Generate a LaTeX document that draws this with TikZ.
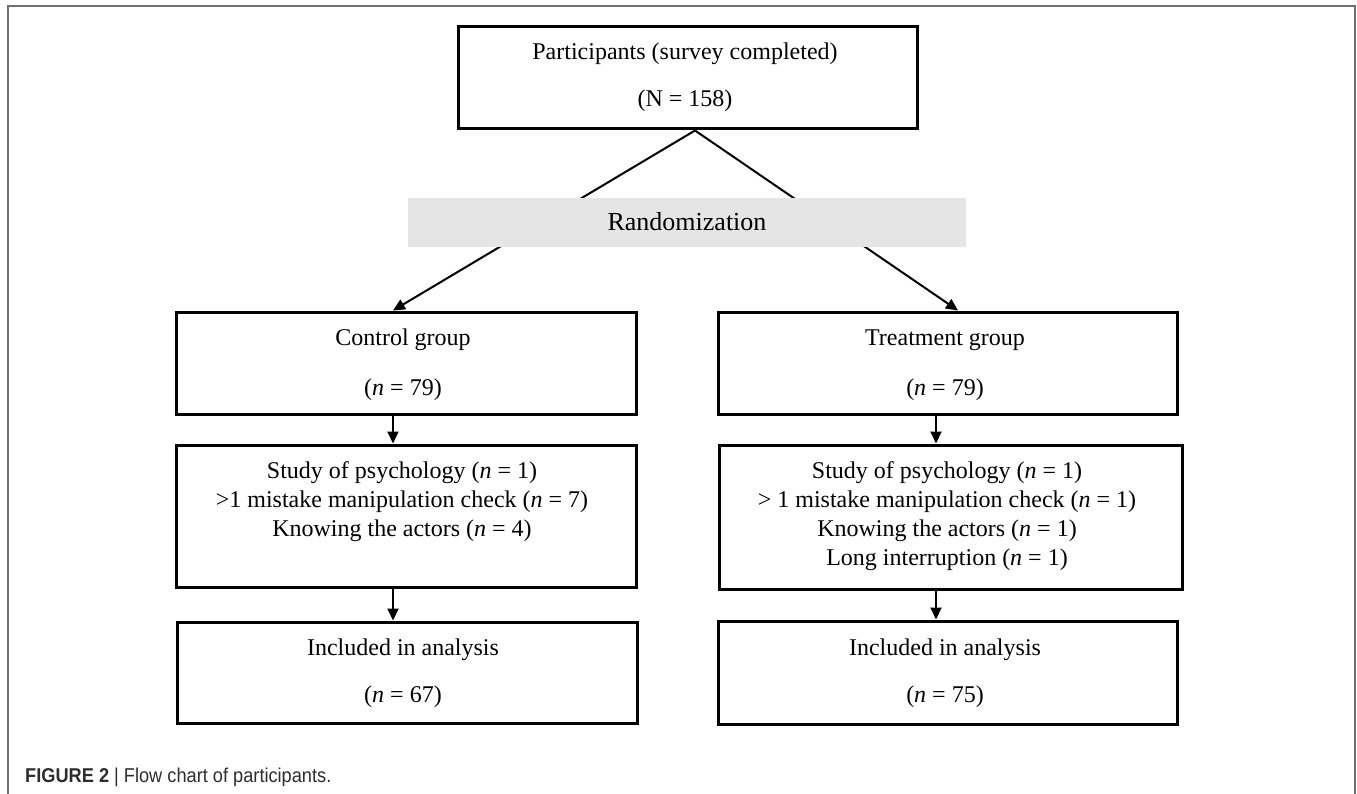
\documentclass[tikz,border=0pt]{standalone}
\usepackage{fontspec}
\setmainfont{Liberation Serif}
\newfontfamily\capfont[FakeStretch=0.91]{Liberation Sans}
\usetikzlibrary{arrows.meta}
\definecolor{randgray}{RGB}{229,229,229}
\definecolor{framegray}{RGB}{112,112,112}
\definecolor{capgray}{RGB}{45,45,45}
\begin{document}
\begin{tikzpicture}[x=1pt,y=-1pt,
  flowbox/.style={draw=black, line width=3pt, rectangle, inner sep=0pt},
  txt/.style={anchor=base, inner sep=0pt, font=\fontsize{24}{29}\selectfont},
  conn/.style={draw=black, line width=2pt, -{Triangle[length=12pt,width=11pt]}}]
\useasboundingbox (0,0) rectangle (1357,794);
% outer frame
\draw[framegray, line width=1.5pt] (8,794) -- (8,6) -- (1355,6) -- (1355,794);
% boxes
\node[flowbox, minimum width=459pt, minimum height=102pt] (top) at (687.5,78) {};
\node[flowbox, minimum width=460pt, minimum height=102pt] (c1) at (406,363) {};
\node[flowbox, minimum width=460pt, minimum height=142pt] (c2) at (406,516) {};
\node[flowbox, minimum width=460pt, minimum height=101pt] (c3) at (407,672.5) {};
\node[flowbox, minimum width=459pt, minimum height=102pt] (t1) at (947.5,363) {};
\node[flowbox, minimum width=463pt, minimum height=144pt] (t2) at (950.5,517) {};
\node[flowbox, minimum width=459pt, minimum height=103pt] (t3) at (947.5,672.5) {};
% connectors
\coordinate (apex) at ([xshift=7.5pt]top.south);
\draw[conn] (apex) -- ([xshift=-13pt]c1.north);
\draw[conn] (apex) -- ([xshift=10.5pt]t1.north);
\draw[conn] ([xshift=-13pt]c1.south) -- ([xshift=-13pt]c2.north);
\draw[conn] ([xshift=-13pt]c2.south) -- ([xshift=-14pt]c3.north);
\draw[conn] ([xshift=-11.5pt]t1.south) -- ([xshift=-14.5pt]t2.north);
\draw[conn] ([xshift=-14.5pt]t2.south) -- ([xshift=-11.5pt]t3.north);
% randomization band (over the lines)
\node[fill=randgray, draw=none, inner sep=0pt, minimum width=558pt, minimum height=49pt] (rand) at (687,222.5) {};
\node[txt, font=\fontsize{26}{31}\selectfont] (randt) at (687,231) {Randomization};
% texts
\node[txt] (topa) at (685,60) {Participants (survey completed)};
\node[txt] (topb) at (685,107) {(N = 158)};
\node[txt] (c1a) at (403,345) {Control group};
\node[txt] (c1b) at (403,395) {(\textit{n} = 79)};
\node[txt] (c2a) at (402,478) {Study of psychology (\textit{n} = 1)};
\node[txt] (c2b) at (402,507) {>1 mistake manipulation check (\textit{n} = 7)};
\node[txt] (c2c) at (402,536) {Knowing the actors (\textit{n} = 4)};
\node[txt] (c3a) at (403,655) {Included in analysis};
\node[txt] (c3b) at (403,702) {(\textit{n} = 67)};
\node[txt] (t1a) at (945,345) {Treatment group};
\node[txt] (t1b) at (945,395) {(\textit{n} = 79)};
\node[txt] (t2a) at (947,478) {Study of psychology (\textit{n} = 1)};
\node[txt] (t2b) at (947,507) {> 1 mistake manipulation check (\textit{n} = 1)};
\node[txt] (t2c) at (947,536) {Knowing the actors (\textit{n} = 1)};
\node[txt] (t2d) at (947,565) {Long interruption (\textit{n} = 1)};
\node[txt] (t3a) at (945,655) {Included in analysis};
\node[txt] (t3b) at (945,702) {(\textit{n} = 75)};
% caption
\node[anchor=base west, inner sep=0pt, text=capgray] (cap) at (25,782)
  {\capfont\fontsize{20}{24}\selectfont\textbf{FIGURE 2} | Flow chart of participants.};
\end{tikzpicture}
\end{document}
